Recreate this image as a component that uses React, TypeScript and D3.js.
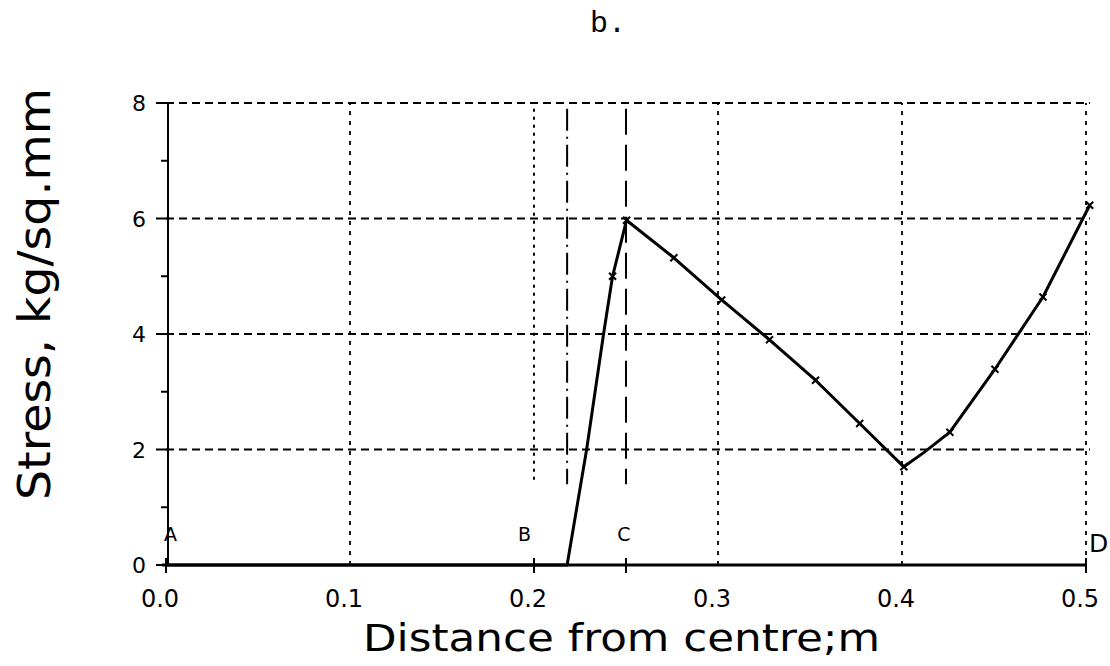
import React from "react";
import * as d3 from "d3";

// ---- data ----
const stressX = [0.0, 0.218, 0.2286, 0.2378, 0.2427, 0.2503, 0.276, 0.302, 0.328, 0.353, 0.377, 0.401, 0.412, 0.426, 0.4505, 0.4766, 0.502];
const stressY = [0.0, 0.0, 2.0, 4.0, 5.0, 5.97, 5.32, 4.59, 3.9, 3.2, 2.45, 1.7, 1.95, 2.3, 3.39, 4.64, 6.23];
const markerIdx = [4, 5, 6, 7, 8, 9, 10, 11, 13, 14, 15, 16];
const xTicks = [0.0, 0.1, 0.2, 0.3, 0.4, 0.5];
const xTickLabels = ["0.0", "0.1", "0.2", "0.3", "0.4", "0.5"];
const yMajor = [0, 2, 4, 6, 8];
const yMinor = [1, 3, 5, 7];
const gridX = [0.1, 0.3, 0.4, 0.5];
const gridY = [2, 4, 6, 8];
const pointLabels = ["A", "B", "C", "D"];
const pointLabelX = [0.0, 0.2, 0.25, 0.5];
const refLineX = [0.2, 0.218, 0.25];
const refLineTop = 7.9;
const refLineBottom = 1.4;

const W = 1110;
const H = 666;

export default function App() {
  const x = d3.scaleLinear().domain([0, 0.5]).range([166, 1086]);
  const y = d3.scaleLinear().domain([0, 8]).range([565, 103]);
  const pts = stressX.map((v, i) => [v, stressY[i]] as [number, number]);
  const line = d3
    .line<[number, number]>()
    .x((d) => x(d[0]))
    .y((d) => y(d[1]));

  const font = "'DejaVu Sans', sans-serif";
  const refStyles = ["3,5", "22,6,2,6", "26,10"];

  return (
    <svg width={W} height={H} style={{ position: "absolute", left: 0, top: 0, background: "#fff" }}>
      <rect width={W} height={H} fill="#fff" />
      {/* title */}
      <text x={608} y={32} textAnchor="middle" fontFamily="'Liberation Mono', monospace" fontSize={30}>
        b.
      </text>

      {/* horizontal grid */}
      {gridY.map((g) => (
        <line key={"gy" + g} x1={x(0)} x2={x(0.5) + 4} y1={y(g)} y2={y(g)} stroke="#000" strokeWidth={2} strokeDasharray="8,5" />
      ))}
      {/* vertical grid */}
      {gridX.map((g) => (
        <line key={"gx" + g} x1={x(g)} x2={x(g)} y1={y(0)} y2={y(8)} stroke="#000" strokeWidth={1.8} strokeDasharray="4,6" />
      ))}
      {/* reference lines */}
      {refLineX.map((r, i) => (
        <line key={"r" + i} x1={x(r)} x2={x(r)} y1={y(refLineTop)} y2={y(refLineBottom)} stroke="#000" strokeWidth={2} strokeDasharray={refStyles[i]} />
      ))}

      {/* y axis */}
      <line x1={x(0) + 2} x2={x(0) + 2} y1={y(0)} y2={y(8)} stroke="#000" strokeWidth={2} />
      {yMajor.map((t) => (
        <g key={"ym" + t}>
          <line x1={x(0) - 10} x2={x(0) + 2} y1={y(t)} y2={y(t)} stroke="#000" strokeWidth={2} />
          <text x={x(0) - 20} y={y(t) + 8} textAnchor="end" fontFamily={font} fontSize={22}>
            {t}
          </text>
        </g>
      ))}
      {yMinor.map((t) => (
        <line key={"yn" + t} x1={x(0) - 5} x2={x(0) + 2} y1={y(t)} y2={y(t)} stroke="#000" strokeWidth={2} />
      ))}

      {/* x axis */}
      <line x1={x(0) - 4} x2={x(0.5)} y1={y(0)} y2={y(0)} stroke="#000" strokeWidth={2.8} />
      {[0, 0.2, 0.25, 0.5].map((t) => (
        <line key={"xt" + t} x1={x(t)} x2={x(t)} y1={y(0) - 7} y2={y(0) + 8} stroke="#000" strokeWidth={2} />
      ))}
      {xTicks.map((t, i) => (
        <text key={"xl" + t} x={x(t) - 6} y={y(0) + 42} textAnchor="middle" fontFamily={font} fontSize={24}>
          {xTickLabels[i]}
        </text>
      ))}

      {/* point labels */}
      {pointLabels.map((l, i) => {
        const isD = i === pointLabels.length - 1;
        const anchor = i === 0 || isD ? "start" : i === 1 ? "end" : "middle";
        const dx = i === 0 ? -2 : i === 1 ? -3 : isD ? 3 : -2;
        return (
          <text key={l} x={x(pointLabelX[i]) + dx} y={isD ? y(0) - 13 : y(0) - 24} textAnchor={anchor} fontFamily={font} fontSize={isD ? 25 : 19}>
            {l}
          </text>
        );
      })}

      {/* stress curve */}
      <path d={line(pts) || ""} fill="none" stroke="#000" strokeWidth={3} strokeLinejoin="round" />
      {markerIdx.map((i) => (
        <path
          key={"m" + i}
          d={`M${x(stressX[i]) - 3.5},${y(stressY[i]) - 3.5}L${x(stressX[i]) + 3.5},${y(stressY[i]) + 3.5}M${x(stressX[i]) - 3.5},${y(stressY[i]) + 3.5}L${x(stressX[i]) + 3.5},${y(stressY[i]) - 3.5}`}
          stroke="#000"
          strokeWidth={2}
        />
      ))}

      {/* axis titles */}
      <text x={363} y={651} fontFamily={font} fontSize={37} textLength={517} lengthAdjust="spacingAndGlyphs">
        Distance from centre;m
      </text>
      <text
        transform={`translate(50,${294}) rotate(-90)`}
        textAnchor="middle"
        fontFamily={font}
        fontSize={44}
        textLength={412}
        lengthAdjust="spacingAndGlyphs"
      >
        Stress, kg/sq.mm
      </text>
    </svg>
  );
}
